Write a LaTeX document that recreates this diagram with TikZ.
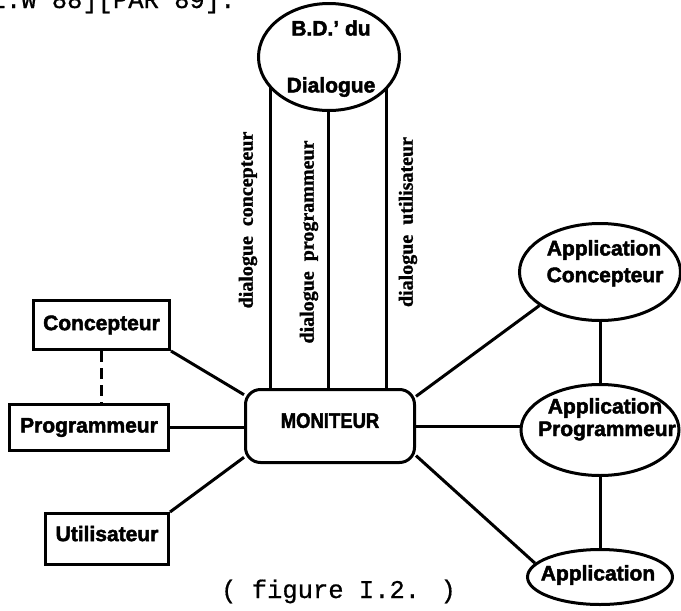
\documentclass[tikz,border=0pt]{standalone}
\usepackage{fontspec}
\usepackage{graphicx}
\newfontfamily\nodefont{Liberation Sans}[BoldFeatures={FakeBold=2.2}]
\newfontfamily\labfont{Liberation Serif}[BoldFeatures={FakeBold=1.2}]
\newfontfamily\capfont{Liberation Mono}[FakeBold=0.6]
\usetikzlibrary{shapes.geometric,backgrounds}
\tikzset{
  box/.style={draw, line width=3pt, rectangle, inner sep=0pt, font=\nodefont\bfseries\fontsize{21}{25}\selectfont},
  ell/.style={draw, line width=3pt, ellipse, inner sep=0pt, fill=white},
  ntext/.style={inner sep=0pt, font=\nodefont\bfseries\fontsize{21}{25}\selectfont},
  dlab/.style={inner sep=0pt, rotate=90, font=\labfont\bfseries\fontsize{20}{24}\selectfont},
  mono/.style={inner sep=0pt, anchor=base west, font=\capfont\fontsize{25.5}{28}\selectfont},
  link/.style={line width=3pt},
  dashlink/.style={line width=3pt, dash pattern=on 11pt off 6pt},
}
\begin{document}
\begin{tikzpicture}[x=1pt,y=-1pt]
\useasboundingbox (0,0) rectangle (681,611);
\clip (0,0) rectangle (681,611);

% top clipped text
\node[mono] (top) at (-9.6,8) {L.W 88][PAR 89].};

% boxes
\node[box, minimum width=136pt, minimum height=49pt] (conc) at (101.5,325) {Concepteur};
\node[box, minimum width=159pt, minimum height=46pt] (prog) at (89,427.5) {Programmeur};
\node[box, minimum width=123pt, minimum height=51pt] (util) at (107,539) {\raisebox{11pt}{Utilisateur}};
\node[box, rounded corners=15pt, minimum width=169pt, minimum height=73pt] (mon) at (330,426) {\raisebox{11pt}{\scalebox{0.88}[1]{MONITEUR}}};

% database ellipse
\node[ell, minimum width=141pt, minimum height=107pt] (bd) at (329,57) {};
\node[ntext] (bdA) at (331,28) {B.D.’ du};
\node[ntext] (bdB) at (331,87) {Dialogue};

% application ellipses
\node[ell, minimum width=161pt, minimum height=97pt] (appC) at (600,272) {};
\node[ntext] (appCa) at (604,250) {Application};
\node[ntext] (appCb) at (605,277) {Concepteur};

\node[ell, minimum width=158pt, minimum height=91pt] (appP) at (600,430) {};
\node[ntext] (appPa) at (605,408) {Application};
\node[ntext] (appPb) at (607,431) {Programmeur};

\node[ell, minimum width=145pt, minimum height=55pt] (app) at (600,577) {};
\node[ntext] (appa) at (598,575) {Application};

% dialogue labels
\node[dlab] (dc) at (248,220) {dialogue~~concepteur};
\node[dlab] (dp) at (309,242) {dialogue~~programmeur};
\node[dlab] (du) at (408,222) {dialogue~~utilisateur};

% caption
\node[mono] (cap) at (221,598) {( figure I.2. )};

% vertical dialogue lines
\coordinate (x1) at (270,0);
\coordinate (x2) at (328,0);
\coordinate (x3) at (386,0);
\begin{scope}[on background layer]
\draw[link] (mon.north -| x1) -- (bd.center -| x1);
\draw[link] (mon.north -| x2) -- (bd.center -| x2);
\draw[link] (mon.north -| x3) -- (bd.center -| x3);
\end{scope}

% connectors
\draw[link] (conc.south east) -- (mon.160);
\draw[link] (prog.east) -- (prog.east -| mon.west);
\draw[link] (util.north east) -- (mon.200);
\draw[dashlink] (conc.south) -- (conc.south |- prog.north);

\draw[link] (mon.19) -- (appC.209);
\draw[link] (mon.east) -- (mon.east -| appP.west);
\draw[link] (mon.-19) -- (app.168);
\draw[link] (appC.south) -- (appP.north);
\draw[link] (appP.south) -- (app.north);
\end{tikzpicture}
\end{document}
